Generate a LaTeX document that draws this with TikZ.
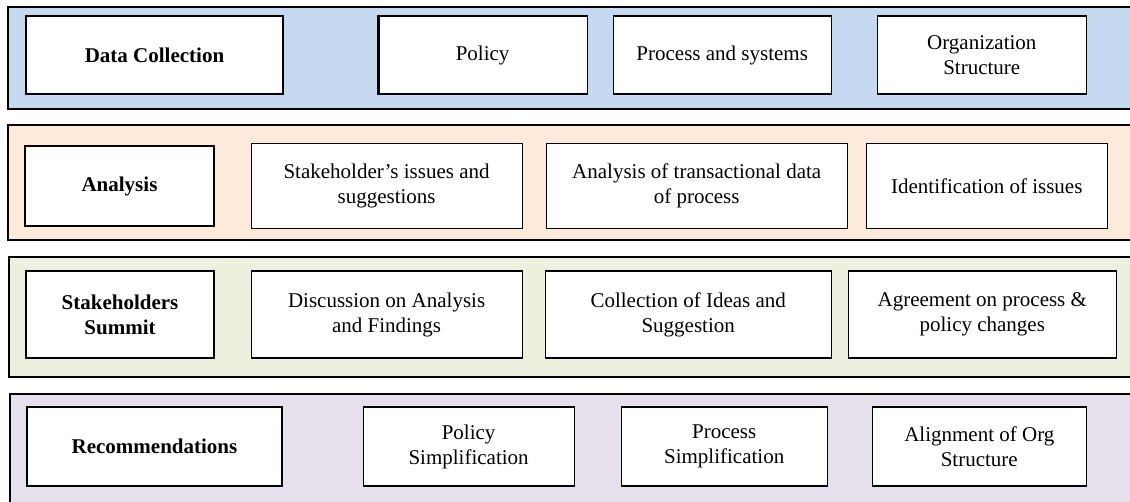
\documentclass[tikz,border=0pt]{standalone}
\usepackage{fontspec}
\setmainfont{Liberation Serif}
\usetikzlibrary{positioning}

\definecolor{bandblue}{HTML}{C5D9F1}
\definecolor{bandpeach}{HTML}{FDEADA}
\definecolor{bandgreen}{HTML}{EBF1DE}
\definecolor{bandlilac}{HTML}{E5E0EC}

\tikzset{
	band/.style={draw=black, line width=1.6pt},
	box/.style={draw=black, fill=white, line width=1.1pt, align=center, inner sep=0pt,
		font=\fontsize{21}{25}\selectfont},
	head/.style={box, font=\fontsize{21}{25}\selectfont\bfseries},
	size/.style 2 args={minimum width=#1, minimum height=#2},
}

\begin{document}
\begin{tikzpicture}[x=1pt, y=-1pt]
	\useasboundingbox (0,0) rectangle (1130,502);
	\fill[white] (0,0) rectangle (1130,502);
	\clip (0,0) rectangle (1130,502);

	\draw[band, fill=bandblue] (8,7) rectangle (1140,109);
	\draw[band, fill=bandpeach] (8,125) rectangle (1140,240);
	\draw[band, fill=bandgreen] (9,257) rectangle (1140,377);
	\draw[band, fill=bandlilac] (10,394) rectangle (1140,512);

	\node[head, size={257pt}{78pt}] (dc) at (154.5,55) {Data Collection};
	\node[box, size={209pt}{78pt}, right=94pt of dc] (pol) {Policy};
	\node[box, size={218pt}{78pt}, right=25pt of pol] (proc) {Process and systems};
	\node[box, size={209pt}{78pt}, right=45pt of proc] (org) {Organization\\Structure};
	\draw[line width=3pt] ([xshift=1pt]pol.north west) -- ([xshift=1pt]pol.south west);

	\node[head, size={189pt}{80pt}] (ana) at (119.5,186) {Analysis};
	\node[box, size={271pt}{85pt}, right=36pt of ana] (stk) {Stakeholder’s issues and\\suggestions};
	\node[box, size={301pt}{85pt}, right=23pt of stk] (tra) {Analysis of transactional data\\of process};
	\node[box, size={241pt}{85pt}, right=18pt of tra] (idf) {Identification of issues};

	\node[head, size={188pt}{87pt}] (sum) at (120,314.5) {Stakeholders\\Summit};
	\node[box, size={271pt}{87pt}, right=36pt of sum] (dis) {Discussion on Analysis\\and Findings};
	\node[box, size={286pt}{87pt}, right=22pt of dis] (col) {Collection of Ideas and\\Suggestion};
	\node[box, size={268pt}{87pt}, right=16pt of col] (agr) {Agreement on process \&\\policy changes};

	\node[head, size={255pt}{79pt}] (rec) at (154.5,446.5) {Recommendations};
	\node[box, size={211pt}{79pt}, right=80pt of rec] (psim) {Policy\\Simplification};
	\node[box, size={206pt}{79pt}, right=46pt of psim] (prsim) {Process\\Simplification};
	\node[box, size={214pt}{79pt}, right=44pt of prsim] (aln) {Alignment of Org\\Structure};
\end{tikzpicture}
\end{document}
